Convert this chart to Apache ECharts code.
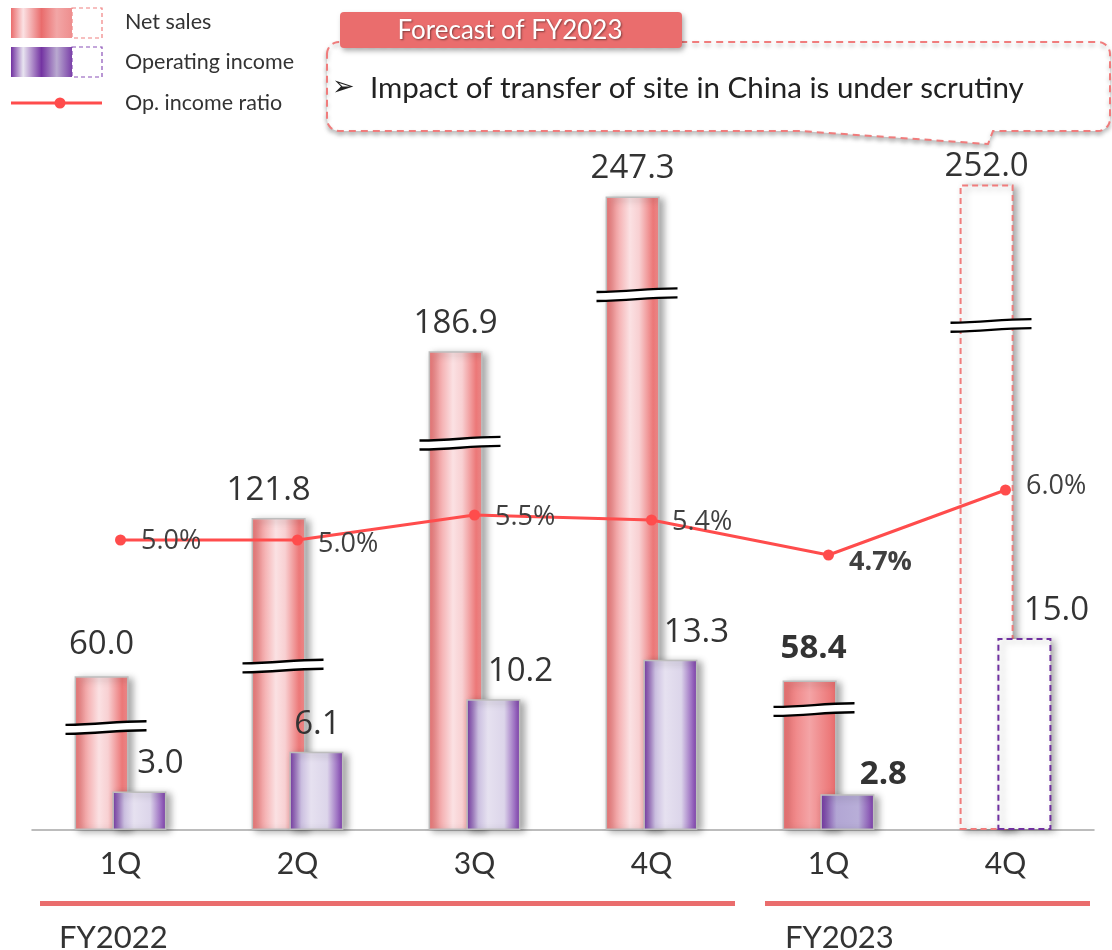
<!DOCTYPE html>
<html>
<head>
<meta charset="utf-8">
<script src="https://cdn.jsdelivr.net/npm/echarts@6/dist/echarts.min.js"></script>
<style>
  html, body { margin: 0; padding: 0; background: #fff; }
  #chart { width: 1112px; height: 950px; }
</style>
</head>
<body>
<div id="chart"></div>
<script>
// ---- data ----
const quarters = ['1Q', '2Q', '3Q', '4Q', '1Q', '4Q'];
const netSales = [60.0, 121.8, 186.9, 247.3, 58.4, 252.0];
const operatingIncome = [3.0, 6.1, 10.2, 13.3, 2.8, 15.0];
const opIncomeRatio = [5.0, 5.0, 5.5, 5.4, 4.7, 6.0];
// level (net sales units) where each net sales bar carries its axis-break mark
const breakAt = [40, 64, 151, 209, 47, 197];
// actual results, latest quarter, forecast
const periodKind = ['actual', 'actual', 'actual', 'actual', 'latest', 'forecast'];
const fiscalYears = ['FY2022', 'FY2023'];

// ---- styling ----
const VAL_FONT = '"Open Sans", "Noto Sans", sans-serif';
const TXT_FONT = 'Lato, "Open Sans", sans-serif';
const RED = '#ff4c4c';
const BAR_W = 54;
const BAR_SHIFT = 19; // half distance between paired bar centres

const hGrad = (stops) => new echarts.graphic.LinearGradient(0, 0, 1, 0,
  stops.map(([o, c]) => ({ offset: o, color: c })));

const shadow = { shadowBlur: 7, shadowColor: 'rgba(0,0,0,0.35)', shadowOffsetX: 4, shadowOffsetY: 2 };

const netStyle = {
  actual: Object.assign({
    color: hGrad([[0, '#ec7272'], [0.22, '#f4acad'], [0.45, '#fbe1e3'], [0.62, '#f8d0d2'], [0.88, '#ec7878'], [1, '#ef8c8c']]),
    borderColor: '#bdbdbd', borderWidth: 1.5
  }, shadow),
  latest: Object.assign({
    color: hGrad([[0, '#ec7070'], [0.5, '#f4a4a6'], [1, '#ea6c6c']]),
    borderColor: '#bdbdbd', borderWidth: 1.5
  }, shadow),
  forecast: Object.assign({
    color: '#ffffff', borderColor: '#f07c7c', borderWidth: 2, borderType: [6, 4]
  }, shadow)
};
const opStyle = {
  actual: Object.assign({
    color: hGrad([[0, '#7434a4'], [0.22, '#cbbfe0'], [0.4, '#e6e1f0'], [0.7, '#dcd5ea'], [0.9, '#9a6cc0'], [1, '#7a3aa8']]),
    borderColor: '#bdbdbd', borderWidth: 1.5
  }, shadow),
  latest: Object.assign({
    color: hGrad([[0, '#7232a2'], [0.3, '#b2a6d4'], [0.7, '#b8aed8'], [1, '#7a3aa8']]),
    borderColor: '#bdbdbd', borderWidth: 1.5
  }, shadow),
  forecast: Object.assign({
    color: '#ffffff', borderColor: '#7030a0', borderWidth: 2, borderType: [6, 4]
  }, shadow)
};
// label nudges [dx, dy]
const netLabelShift = [[0, -4], [-10, 0], [0, 0], [0, 0], [4, -4], [0, 10]];
const opLabelShift = [[21, 0], [1, 0], [27, 0], [26, 0], [36, 8], [32, 0]];
const ratioLabelShift = [[0, 1], [0, 4], [0, 2], [0, 2], [0, 7], [0, -4]];

// outline of the rounded callout box with its small tail, as polygon points
function calloutOutline(l, t, r, b, rad) {
  const pts = [];
  const arc = (cx, cy, a0, a1) => {
    for (let k = 0; k <= 8; k++) {
      const a = a0 + (a1 - a0) * k / 8;
      pts.push([cx + rad * Math.cos(a), cy + rad * Math.sin(a)]);
    }
  };
  arc(l + rad, t + rad, Math.PI, Math.PI * 1.5);
  arc(r - rad, t + rad, Math.PI * 1.5, Math.PI * 2);
  arc(r - rad, b - rad, 0, Math.PI * 0.5);
  pts.push([993, b], [988, b + 13], [800, b]);
  arc(l + rad, b - rad, Math.PI * 0.5, Math.PI);
  return pts;
}

const chart = echarts.init(document.getElementById('chart'), null, { renderer: 'canvas' });

const option = {
  animation: false,
  backgroundColor: '#ffffff',
  grid: { left: 32, right: 18, top: 164, bottom: 120 },
  xAxis: {
    type: 'category',
    data: quarters,
    axisLine: { lineStyle: { color: '#a6a6a6', width: 1.5 } },
    axisTick: { show: false },
    axisLabel: { fontFamily: TXT_FONT, fontSize: 30, color: '#333', margin: 19 }
  },
  yAxis: [
    { type: 'value', min: 0, max: 260, show: false, splitLine: { show: false } },
    { type: 'value', min: 0, max: 52, show: false, splitLine: { show: false } },
    { type: 'value', min: -0.8, max: 12.52, show: false, splitLine: { show: false } }
  ],
  series: [
    {
      name: 'Net sales',
      type: 'bar',
      yAxisIndex: 0,
      barWidth: BAR_W,
      barGap: '-30%',
      z: 2,
      label: {
        show: true, position: 'top', distance: 11,
        fontFamily: VAL_FONT, fontSize: 33, color: '#333',
        formatter: (p) => p.value.toFixed(1)
      },
      data: netSales.map((v, i) => ({
        value: v,
        itemStyle: netStyle[periodKind[i]],
        label: { offset: netLabelShift[i], fontWeight: periodKind[i] === 'latest' ? 'bold' : 'normal' }
      }))
    },
    {
      name: 'Operating income',
      type: 'bar',
      yAxisIndex: 1,
      barWidth: BAR_W,
      barGap: '-30%',
      z: 3,
      label: {
        show: true, position: 'top', distance: 11,
        fontFamily: VAL_FONT, fontSize: 33, color: '#333',
        formatter: (p) => p.value.toFixed(1)
      },
      data: operatingIncome.map((v, i) => ({
        value: v,
        itemStyle: opStyle[periodKind[i]],
        label: { offset: opLabelShift[i], fontWeight: periodKind[i] === 'latest' ? 'bold' : 'normal' }
      }))
    },
    {
      name: 'Axis break',
      type: 'custom',
      yAxisIndex: 0,
      z: 4,
      silent: true,
      data: breakAt.map((v, i) => [i, v]),
      renderItem: (params, api) => {
        const c = api.coord([api.value(0), api.value(1)]);
        const x0 = c[0] - BAR_SHIFT - BAR_W / 2 - 9;
        const w = BAR_W + 27;
        const y = c[1];
        const a = 1.8, gap = 4.5;
        const top = `M${x0} ${y - gap + a} C${x0 + w * 0.45} ${y - gap + a} ${x0 + w * 0.55} ${y - gap - a} ${x0 + w} ${y - gap - a}`;
        const bot = `M${x0} ${y + gap + a} C${x0 + w * 0.45} ${y + gap + a} ${x0 + w * 0.55} ${y + gap - a} ${x0 + w} ${y + gap - a}`;
        const band = top + ` L${x0 + w} ${y + gap - a} C${x0 + w * 0.55} ${y + gap - a} ${x0 + w * 0.45} ${y + gap + a} ${x0} ${y + gap + a} Z`;
        return {
          type: 'group',
          children: [
            { type: 'path', shape: { pathData: band }, style: { fill: '#ffffff', stroke: null } },
            { type: 'path', shape: { pathData: top }, style: { fill: null, stroke: '#000', lineWidth: 2.4 } },
            { type: 'path', shape: { pathData: bot }, style: { fill: null, stroke: '#000', lineWidth: 2.4 } }
          ]
        };
      }
    },
    {
      name: 'Op. income ratio',
      type: 'line',
      yAxisIndex: 2,
      z: 5,
      symbol: 'circle',
      symbolSize: 11,
      lineStyle: { color: RED, width: 3 },
      itemStyle: { color: RED },
      label: {
        show: true, position: 'right', distance: 15,
        fontFamily: VAL_FONT, fontSize: 27, color: '#404040',
        formatter: (p) => p.value.toFixed(1) + '%'
      },
      data: opIncomeRatio.map((v, i) => ({
        value: v,
        label: { offset: ratioLabelShift[i], fontWeight: periodKind[i] === 'latest' ? 'bold' : 'normal' }
      }))
    }
  ],
  graphic: [
    // legend
    { type: 'rect', shape: { x: 72, y: 8, width: 30, height: 30 }, style: { fill: null, stroke: '#f08080', lineWidth: 1.2, lineDash: [4, 3] } },
    { type: 'rect', shape: { x: 11, y: 8, width: 61, height: 30 }, style: { fill: hGrad([[0, '#ea6c6c'], [0.2, '#fbe1e3'], [0.5, '#e96c6c'], [0.75, '#f2a6a6'], [1, '#ee8e8e']]) } },
    { type: 'rect', shape: { x: 72, y: 47, width: 30, height: 30 }, style: { fill: null, stroke: '#8a50b8', lineWidth: 1.2, lineDash: [4, 3] } },
    { type: 'rect', shape: { x: 11, y: 47, width: 61, height: 30 }, style: { fill: hGrad([[0, '#7030a0'], [0.2, '#e8e4f0'], [0.5, '#7434a2'], [0.75, '#b9a9d0'], [1, '#7a40a8']]) } },
    { type: 'line', shape: { x1: 11, y1: 103, x2: 102, y2: 103 }, style: { stroke: RED, lineWidth: 3 } },
    { type: 'circle', shape: { cx: 60, cy: 103, r: 5.5 }, style: { fill: RED } },
    { type: 'text', style: { x: 125, y: 22, text: 'Net sales', font: '21.5px ' + TXT_FONT, fill: '#333', verticalAlign: 'middle' } },
    { type: 'text', style: { x: 125, y: 62, text: 'Operating income', font: '21.5px ' + TXT_FONT, fill: '#333', verticalAlign: 'middle' } },
    { type: 'text', style: { x: 125, y: 103, text: 'Op. income ratio', font: '21.5px ' + TXT_FONT, fill: '#333', verticalAlign: 'middle' } },
    // forecast callout
    {
      type: 'polygon',
      shape: { points: calloutOutline(327, 42, 1110, 131, 12) },
      style: { fill: '#ffffff', stroke: '#f07c7c', lineWidth: 2, lineDash: [7, 5], shadowBlur: 4, shadowOffsetY: 3, shadowColor: 'rgba(0,0,0,0.25)' }
    },
    {
      type: 'rect', shape: { x: 340, y: 12, width: 342, height: 36, r: 4 },
      style: { fill: '#ea6d6d', shadowBlur: 5, shadowOffsetX: 2, shadowOffsetY: 3, shadowColor: 'rgba(0,0,0,0.3)' }
    },
    {
      type: 'text',
      style: { x: 510, y: 31, text: 'Forecast of FY2023', font: '26px ' + TXT_FONT, fill: '#fff', align: 'center', verticalAlign: 'middle',
        textShadowColor: 'rgba(0,0,0,0.45)', textShadowBlur: 2, textShadowOffsetX: 1, textShadowOffsetY: 1 }
    },
    { type: 'text', style: { x: 332, y: 88, text: '➢', font: '27px "DejaVu Sans", sans-serif', fill: '#222', verticalAlign: 'middle' } },
    { type: 'text', style: { x: 370, y: 88, text: 'Impact of transfer of site in China is under scrutiny', font: '29.5px ' + TXT_FONT, fill: '#222', verticalAlign: 'middle' } },
    // fiscal year groups
    { type: 'rect', shape: { x: 40, y: 901, width: 695, height: 5 }, style: { fill: '#ea6d6d' } },
    { type: 'rect', shape: { x: 765, y: 901, width: 325, height: 5 }, style: { fill: '#ea6d6d' } },
    { type: 'text', style: { x: 59, y: 938, text: fiscalYears[0], font: '31px ' + TXT_FONT, fill: '#333', verticalAlign: 'middle' } },
    { type: 'text', style: { x: 785, y: 938, text: fiscalYears[1], font: '31px ' + TXT_FONT, fill: '#333', verticalAlign: 'middle' } }
  ]
};

chart.setOption(option);
</script>
</body>
</html>
